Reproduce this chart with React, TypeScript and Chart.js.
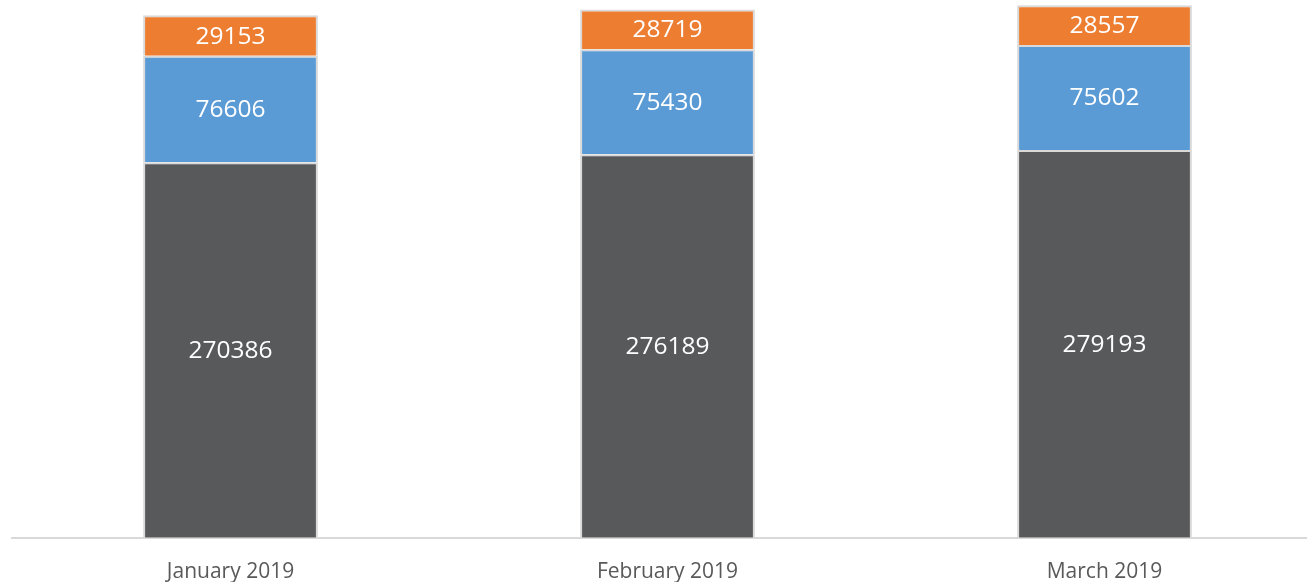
import React, { useEffect, useRef } from "react";
import { Chart, registerables } from "chart.js";

Chart.register(...registerables);

const categories = ["January 2019", "February 2019", "March 2019"];
const seriesBottom = [270386, 276189, 279193];
const seriesMiddle = [76606, 75430, 75602];
const seriesTop = [29153, 28719, 28557];

const labelPlugin = {
  id: "segLabels",
  afterDatasetsDraw(chart: any) {
    const ctx = chart.ctx;
    ctx.save();
    ctx.fillStyle = "#ffffff";
    ctx.font = "24.5px 'Open Sans'";
    ctx.textAlign = "center";
    ctx.textBaseline = "middle";
    chart.data.datasets.forEach((ds: any, di: number) => {
      const meta = chart.getDatasetMeta(di);
      meta.data.forEach((el: any, i: number) => {
        const p = el.getProps(["x", "y", "base"], true);
        ctx.fillText(String(ds.data[i]), p.x, (p.y + p.base) / 2 + 1);
      });
    });
    ctx.restore();
  },
};

export default function App() {
  const ref = useRef<HTMLCanvasElement>(null);
  useEffect(() => {
    document.body.style.overflow = "hidden";
    const chart = new Chart(ref.current!, {
      type: "bar",
      data: {
        labels: categories,
        datasets: [
          { label: "A", data: seriesBottom, backgroundColor: "#58595b", borderColor: "#d9d9d9", borderWidth: 2 },
          { label: "B", data: seriesMiddle, backgroundColor: "#5b9bd5", borderColor: "#d9d9d9", borderWidth: 2 },
          { label: "C", data: seriesTop, backgroundColor: "#ed7d31", borderColor: "#d9d9d9", borderWidth: 2 },
        ],
      },
      options: {
        animation: false,
        responsive: false,
        layout: { padding: { left: 12, right: 0, top: 3, bottom: 2 } },
        plugins: { legend: { display: false }, tooltip: { enabled: false } },
        datasets: { bar: { categoryPercentage: 1, barPercentage: 0.4 } },
        scales: {
          x: {
            stacked: true,
            grid: { display: false, drawTicks: false },
            border: { display: true, color: "#d9d9d9", width: 2 },
            ticks: { padding: 22, color: "#595959", font: { family: "'Open Sans'", size: 21 } },
          },
          y: {
            stacked: true,
            display: false,
            min: 0,
            max: 385000,
          },
        },
      },
      plugins: [labelPlugin],
    });
    return () => chart.destroy();
  }, []);
  return (
    <div style={{ position: "absolute", left: 0, top: 0, width: 1323, height: 582, overflow: "hidden" }}>
      <canvas ref={ref} width={1323} height={609} style={{ display: "block" }} />
    </div>
  );
}
